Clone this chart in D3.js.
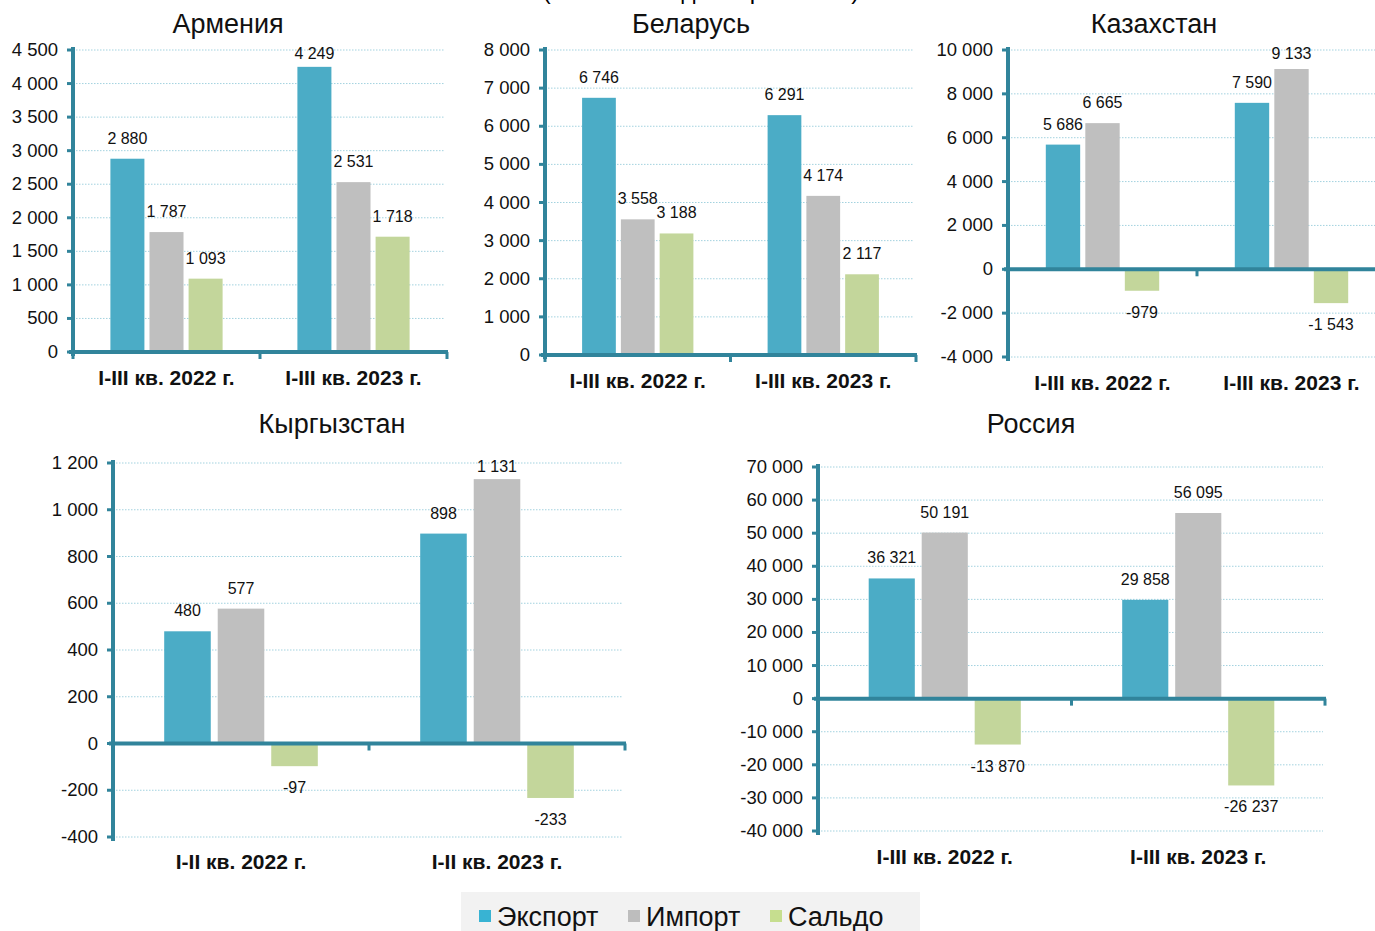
<!DOCTYPE html>
<html lang="ru">
<head>
<meta charset="UTF-8">
<title>Внешняя торговля стран ЕАЭС</title>
<script src="https://d3js.org/d3.v7.min.js"></script>
<style>
  body { margin: 0; background: #fff; }
  svg { display: block; font-family: "Liberation Sans", Arial, sans-serif; }
</style>
</head>
<body>
<svg width="1375" height="931"></svg>
<script>
// данные
const seriesNames = ["Экспорт", "Импорт", "Сальдо"];
const periodsQ3 = ["I-III кв. 2022 г.", "I-III кв. 2023 г."];
const periodsQ2 = ["I-II кв. 2022 г.", "I-II кв. 2023 г."];

const armenia    = [[2880, 1787, 1093], [4249, 2531, 1718]];
const belarus    = [[6746, 3558, 3188], [6291, 4174, 2117]];
const kazakhstan = [[5686, 6665, -979], [7590, 9133, -1543]];
const kyrgyzstan = [[480, 577, -97], [898, 1131, -233]];
const russia     = [[36321, 50191, -13870], [29858, 56095, -26237]];

const armeniaTicks    = [0, 500, 1000, 1500, 2000, 2500, 3000, 3500, 4000, 4500];
const belarusTicks    = [0, 1000, 2000, 3000, 4000, 5000, 6000, 7000, 8000];
const kazakhstanTicks = [-4000, -2000, 0, 2000, 4000, 6000, 8000, 10000];
const kyrgyzstanTicks = [-400, -200, 0, 200, 400, 600, 800, 1000, 1200];
const russiaTicks     = [-40000, -30000, -20000, -10000, 0, 10000, 20000, 30000, 40000, 50000, 60000, 70000];

const barColors    = ["#4bacc6", "#bfbfbf", "#c3d69b"];
const legendColors = ["#38b3d3", "#bdbdbd", "#c6de8f"];
const axisColor = "#31849b";

const svg = d3.select("svg");
const fmt = d3.formatLocale({decimal: ",", thousands: " ", grouping: [3], currency: ["", ""], minus: "-"}).format(",d");

// верхний заголовок (в оригинале обрезан сверху)
svg.append("text")
    .attr("x", 701).attr("y", -1)
    .attr("text-anchor", "middle")
    .attr("font-size", 24)
    .text("(миллионов долларов США)");

const panels = [
    {title: "Армения", periods: periodsQ3, data: armenia, ticks: armeniaTicks,
     x0: 73, x1: 447, yTop: 50, yBot: 352, titleX: 228, titleY: 33, catY: 385},
    {title: "Беларусь", periods: periodsQ3, data: belarus, ticks: belarusTicks,
     x0: 545, x1: 916, yTop: 50, yBot: 355, titleX: 691, titleY: 33, catY: 388},
    {title: "Казахстан", periods: periodsQ3, data: kazakhstan, ticks: kazakhstanTicks,
     x0: 1008, x1: 1386, yTop: 50, yBot: 357, titleX: 1154, titleY: 33, catY: 390},
    {title: "Кыргызстан", periods: periodsQ2, data: kyrgyzstan, ticks: kyrgyzstanTicks,
     x0: 113, x1: 625, yTop: 463, yBot: 837, titleX: 332, titleY: 433, catY: 869},
    {title: "Россия", periods: periodsQ3, data: russia, ticks: russiaTicks,
     x0: 818, x1: 1325, yTop: 467, yBot: 831, titleX: 1031, titleY: 433, catY: 864}
];

panels.forEach(drawPanel);

function drawPanel(p) {
    const g = svg.append("g");
    const y = d3.scaleLinear()
        .domain([d3.min(p.ticks), d3.max(p.ticks)])
        .range([p.yBot, p.yTop]);
    const x = d3.scaleBand().domain(p.periods).range([p.x0, p.x1]);
    const B = x.bandwidth();
    const inner = d3.scaleBand().domain(seriesNames)
        .range([B * 0.2, B * 0.8])
        .paddingInner(0.13);
    const y0 = y(0);

    // сетка
    g.selectAll(".grid").data(p.ticks).enter().append("line")
        .attr("x1", p.x0 + 3).attr("x2", p.x1 - 2)
        .attr("y1", d => y(d)).attr("y2", d => y(d))
        .attr("stroke", "#a3d2df").attr("stroke-width", 1)
        .attr("stroke-dasharray", "1.5,1.5");

    // столбцы и подписи значений
    p.periods.forEach((per, i) => {
        const vals = p.data[i];
        const grp = g.append("g").attr("transform", `translate(${x(per)},0)`);
        grp.selectAll("rect").data(vals).enter().append("rect")
            .attr("x", (d, j) => inner(seriesNames[j]))
            .attr("width", inner.bandwidth())
            .attr("y", d => d >= 0 ? y(d) : y0)
            .attr("height", d => Math.abs(y(d) - y0))
            .attr("fill", (d, j) => barColors[j]);
        grp.selectAll("text").data(vals).enter().append("text")
            .attr("x", (d, j) => inner(seriesNames[j]) + inner.bandwidth() / 2)
            .attr("y", d => d >= 0 ? Math.max(y(d) - 21, p.yTop + 3) + 6 : y(d) + 27)
            .attr("text-anchor", "middle")
            .attr("font-size", 16)
            .attr("fill", "#111")
            .text(d => fmt(d));
    });

    // ось Y
    g.append("line")
        .attr("x1", p.x0).attr("x2", p.x0)
        .attr("y1", p.yTop - 3).attr("y2", p.yBot + 4)
        .attr("stroke", axisColor).attr("stroke-width", 4);
    g.selectAll(".ytick").data(p.ticks).enter().append("line")
        .attr("x1", p.x0 - 6).attr("x2", p.x0)
        .attr("y1", d => y(d)).attr("y2", d => y(d))
        .attr("stroke", axisColor).attr("stroke-width", 3);
    g.selectAll(".ylab").data(p.ticks).enter().append("text")
        .attr("x", p.x0 - 15)
        .attr("y", d => y(d) + 6)
        .attr("text-anchor", "end")
        .attr("font-size", 18.5)
        .attr("fill", "#111")
        .text(d => fmt(d));

    // ось X на уровне нуля
    g.append("line")
        .attr("x1", p.x0 - 4).attr("x2", p.x1 + 1)
        .attr("y1", y0).attr("y2", y0)
        .attr("stroke", axisColor).attr("stroke-width", 4);
    const bounds = [p.x0].concat(p.periods.map(d => x(d) + B));
    g.selectAll(".xtick").data(bounds).enter().append("line")
        .attr("x1", d => d).attr("x2", d => d)
        .attr("y1", y0).attr("y2", y0 + 7)
        .attr("stroke", axisColor).attr("stroke-width", 3);

    // подписи категорий
    g.selectAll(".cat").data(p.periods).enter().append("text")
        .attr("x", d => x(d) + B / 2)
        .attr("y", p.catY)
        .attr("text-anchor", "middle")
        .attr("font-size", 21)
        .attr("font-weight", "bold")
        .attr("fill", "#111")
        .text(d => d);

    // заголовок
    g.append("text")
        .attr("x", p.titleX).attr("y", p.titleY)
        .attr("text-anchor", "middle")
        .attr("font-size", 27)
        .attr("fill", "#111")
        .text(p.title);
}

// легенда
const legend = svg.append("g");
legend.append("rect")
    .attr("x", 461).attr("y", 892).attr("width", 459).attr("height", 45)
    .attr("fill", "#f2f2f2");
const legendX = [479, 628, 770];
seriesNames.forEach((s, i) => {
    legend.append("rect")
        .attr("x", legendX[i]).attr("y", 910).attr("width", 12).attr("height", 12)
        .attr("fill", legendColors[i]);
    legend.append("text")
        .attr("x", legendX[i] + 18).attr("y", 926)
        .attr("font-size", 27)
        .attr("fill", "#111")
        .text(s);
});
</script>
</body>
</html>
